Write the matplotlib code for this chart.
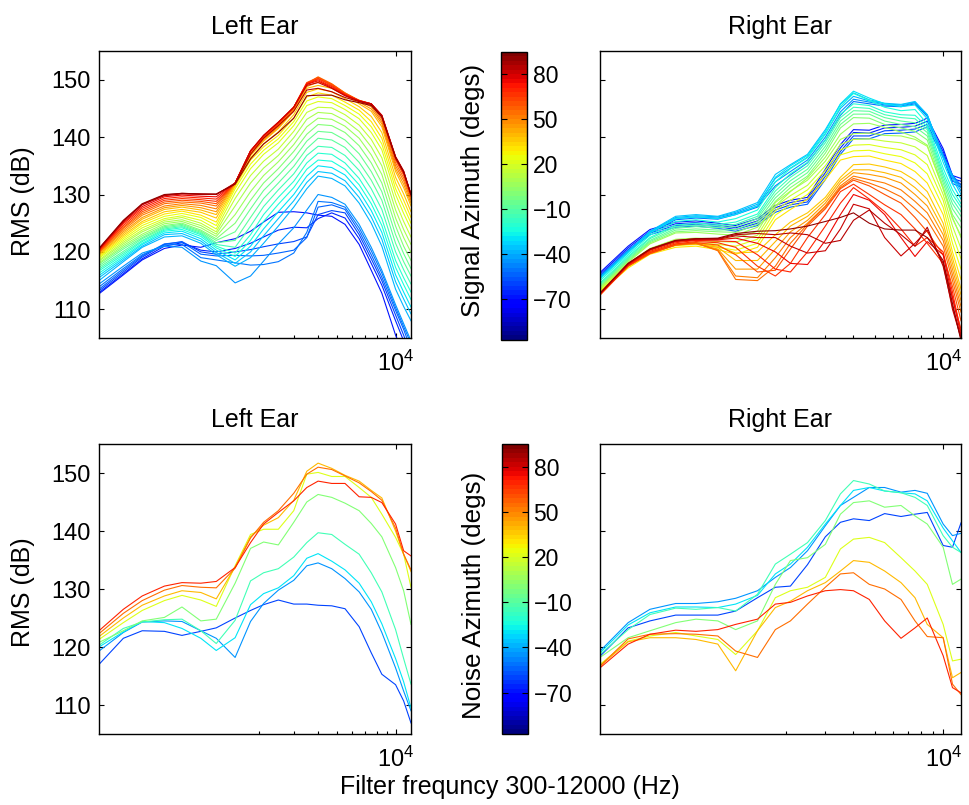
import numpy as np
import matplotlib
matplotlib.use("Agg")
import matplotlib.pyplot as plt
from matplotlib import colors, cm
from matplotlib.ticker import FixedLocator, NullFormatter

plt.rcParams['font.family'] = ['Liberation Sans', 'DejaVu Sans']

# filter centre frequencies (Hz)
freqs = [300, 400, 500, 650, 800, 1000, 1200, 1500, 1800, 2100, 2500,
         3000, 3500, 4000, 4700, 5500, 6500, 7500, 8500, 10000, 11000, 12000]

# signal azimuths (degs) for the upper row
sig_azimuth = list(range(-70, 95, 5))

# RMS level (dB) per signal azimuth, left ear
sig_left = [
    [112.7, 116.0, 118.6, 120.6, 121.2, 120.8, 121.6, 122.3, 123.6, 125.2, 126.9, 127.0, 126.8, 126.4, 126.2, 124.8, 121.3, 116.8, 112.8, 105.5, 102.0, 99.0],
    [112.9, 116.2, 118.8, 121.0, 121.6, 120.3, 120.0, 120.6, 121.5, 122.6, 123.8, 124.3, 124.2, 125.8, 126.8, 125.9, 122.3, 118.0, 114.2, 108.0, 104.5, 101.0],
    [113.2, 116.5, 119.1, 121.3, 121.8, 120.0, 119.6, 120.0, 120.4, 120.9, 121.4, 121.8, 122.6, 126.5, 127.2, 126.8, 123.0, 118.8, 115.0, 109.0, 105.5, 102.0],
    [113.5, 116.8, 119.3, 121.4, 121.7, 119.6, 119.3, 119.4, 119.3, 119.4, 119.8, 120.3, 122.5, 127.8, 128.2, 127.4, 123.6, 119.5, 115.6, 109.8, 106.5, 103.0],
    [113.9, 117.1, 119.5, 121.2, 121.3, 119.0, 118.6, 118.1, 117.7, 117.8, 118.3, 119.8, 123.4, 128.8, 128.6, 127.8, 124.2, 120.2, 116.3, 110.3, 107.0, 104.0],
    [114.4, 117.5, 119.8, 121.0, 120.8, 118.4, 117.6, 114.6, 115.8, 118.4, 121.4, 124.2, 127.3, 130.0, 129.5, 128.3, 124.8, 120.8, 116.8, 110.8, 107.5, 104.5],
    [115.0, 118.3, 120.8, 122.6, 122.8, 121.5, 119.5, 117.5, 119.0, 121.5, 124.5, 127.8, 131.0, 133.2, 132.8, 131.5, 128.5, 125.0, 121.0, 113.5, 110.5, 108.0],
    [115.5, 118.6, 121.0, 123.0, 123.2, 121.9, 119.9, 118.0, 120.0, 122.8, 125.8, 128.9, 132.1, 134.0, 133.7, 132.4, 129.5, 126.1, 122.2, 114.8, 111.8, 109.2],
    [115.9, 118.9, 121.3, 123.3, 123.6, 122.3, 120.3, 118.6, 121.0, 124.0, 127.0, 130.0, 133.2, 135.0, 134.7, 133.4, 130.6, 127.2, 123.4, 116.0, 113.0, 110.4],
    [116.3, 119.2, 121.5, 123.6, 123.9, 122.7, 120.7, 119.2, 122.0, 125.3, 128.3, 131.2, 134.4, 136.0, 135.8, 134.4, 131.7, 128.4, 124.6, 117.3, 114.3, 111.7],
    [116.7, 119.5, 121.8, 123.8, 124.2, 123.0, 121.0, 119.8, 123.0, 126.5, 129.5, 132.3, 135.5, 137.2, 137.0, 135.5, 132.8, 129.5, 125.8, 118.5, 115.5, 113.0],
    [117.0, 119.8, 122.0, 124.0, 124.4, 123.2, 121.3, 120.8, 124.5, 127.9, 130.8, 133.6, 136.8, 138.4, 138.2, 136.8, 134.2, 131.0, 127.4, 120.0, 116.9, 114.4],
    [117.3, 120.1, 122.3, 124.2, 124.6, 123.4, 121.6, 122.0, 126.0, 129.3, 132.0, 134.9, 138.0, 139.8, 139.5, 138.2, 135.6, 132.5, 129.0, 121.5, 118.3, 115.8],
    [117.6, 120.5, 122.5, 124.4, 124.8, 123.6, 122.0, 123.5, 127.5, 130.7, 133.3, 136.2, 139.3, 141.0, 140.8, 139.5, 137.1, 134.0, 130.5, 123.0, 119.7, 117.1],
    [117.9, 120.8, 122.8, 124.6, 125.0, 123.8, 122.3, 125.0, 129.0, 132.0, 134.5, 137.5, 140.5, 142.2, 142.0, 140.8, 138.5, 135.5, 132.0, 124.5, 121.0, 118.5],
    [118.1, 121.1, 123.1, 124.9, 125.3, 124.2, 122.7, 126.5, 130.5, 133.3, 135.7, 138.7, 141.8, 143.3, 143.1, 141.9, 139.8, 136.9, 133.5, 125.9, 122.5, 119.9],
    [118.4, 121.4, 123.5, 125.2, 125.6, 124.6, 123.1, 128.0, 132.0, 134.6, 136.8, 139.9, 143.1, 144.3, 144.1, 142.9, 141.0, 138.3, 135.0, 127.3, 123.9, 121.3],
    [118.6, 121.7, 123.8, 125.5, 126.0, 125.0, 123.5, 129.3, 133.3, 135.8, 137.9, 141.0, 144.3, 145.2, 145.1, 143.9, 142.1, 139.6, 136.4, 128.7, 125.3, 122.6],
    [118.9, 122.0, 124.2, 125.8, 126.3, 125.5, 124.0, 130.3, 134.5, 137.0, 139.0, 142.0, 145.5, 146.2, 146.0, 144.8, 143.2, 140.8, 137.8, 130.0, 126.7, 124.0],
    [119.1, 122.3, 124.6, 126.2, 126.7, 126.0, 124.6, 131.0, 135.3, 137.7, 139.7, 142.7, 146.3, 147.0, 146.7, 145.5, 144.0, 141.8, 138.8, 131.0, 127.9, 125.0],
    [119.3, 122.6, 125.0, 126.6, 127.1, 126.4, 125.2, 131.4, 136.0, 138.3, 140.3, 143.3, 147.0, 147.7, 147.3, 146.1, 144.7, 142.7, 139.8, 132.0, 129.0, 126.0],
    [119.5, 122.9, 125.3, 127.0, 127.4, 126.9, 125.9, 131.6, 136.4, 138.8, 140.9, 143.9, 147.8, 148.4, 147.9, 146.7, 145.3, 143.6, 140.8, 133.0, 130.1, 127.0],
    [119.6, 123.2, 125.7, 127.4, 127.8, 127.3, 126.5, 131.8, 136.8, 139.3, 141.5, 144.5, 148.5, 149.0, 148.5, 147.3, 145.8, 144.5, 141.8, 134.0, 131.2, 128.0],
    [119.8, 123.5, 126.0, 127.7, 128.1, 127.7, 127.0, 131.9, 137.0, 139.5, 141.7, 144.7, 148.8, 149.6, 148.9, 147.5, 146.1, 144.9, 142.3, 134.5, 131.8, 128.5],
    [119.9, 123.8, 126.4, 128.0, 128.4, 128.1, 127.5, 132.0, 137.2, 139.7, 141.9, 144.9, 149.1, 150.2, 149.2, 147.7, 146.3, 145.3, 142.7, 135.0, 132.4, 129.0],
    [120.0, 124.1, 126.7, 128.4, 128.7, 128.5, 128.0, 132.0, 137.4, 139.9, 142.1, 145.1, 149.3, 150.5, 149.3, 147.7, 146.4, 145.6, 143.1, 135.5, 132.9, 129.4],
    [120.1, 124.3, 127.0, 128.7, 129.0, 128.8, 128.4, 132.0, 137.5, 140.0, 142.3, 145.2, 149.5, 150.4, 149.2, 147.6, 146.4, 145.8, 143.5, 136.0, 133.4, 129.7],
    [120.2, 124.6, 127.3, 129.0, 129.3, 129.1, 128.8, 132.0, 137.6, 140.1, 142.4, 145.2, 149.4, 150.2, 149.0, 147.5, 146.4, 145.8, 143.6, 136.2, 133.6, 129.8],
    [120.3, 124.9, 127.6, 129.3, 129.6, 129.4, 129.2, 132.0, 137.6, 140.2, 142.5, 145.2, 149.3, 150.0, 148.8, 147.4, 146.3, 145.8, 143.7, 136.4, 133.8, 129.9],
    [120.4, 125.1, 127.9, 129.6, 129.9, 129.7, 129.6, 132.0, 137.6, 140.3, 142.6, 145.2, 149.2, 149.8, 148.6, 147.3, 146.3, 145.8, 143.8, 136.5, 134.0, 130.0],
    [120.5, 125.3, 128.2, 129.8, 130.1, 130.0, 130.0, 132.0, 137.6, 140.3, 142.6, 145.2, 149.0, 149.5, 148.5, 147.2, 146.3, 145.8, 143.8, 136.6, 134.1, 130.0],
    [120.6, 125.4, 128.3, 129.9, 130.2, 130.1, 130.0, 131.9, 137.0, 139.8, 142.0, 144.5, 148.2, 148.5, 147.9, 146.9, 146.2, 145.7, 143.7, 136.5, 134.0, 130.0],
    [120.6, 125.5, 128.4, 130.0, 130.2, 130.1, 130.1, 131.8, 136.2, 138.8, 140.8, 143.3, 147.2, 147.3, 147.3, 146.5, 146.0, 145.5, 143.5, 136.4, 133.9, 130.0],
]

# RMS level (dB) per signal azimuth, right ear
sig_right = [
    [116.4, 121.0, 123.9, 125.2, 125.4, 125.0, 124.6, 125.8, 128.1, 129.0, 129.5, 134.4, 138.7, 141.3, 141.2, 142.1, 142.2, 142.4, 143.3, 138.0, 133.3, 132.8],
    [116.1, 120.7, 123.6, 124.9, 125.1, 124.7, 124.2, 125.4, 127.7, 128.6, 129.1, 133.8, 138.1, 140.8, 140.7, 141.6, 141.7, 141.9, 142.8, 137.5, 132.8, 132.3],
    [115.8, 120.4, 123.3, 124.6, 124.8, 124.4, 123.9, 125.0, 127.3, 128.2, 128.7, 133.2, 137.5, 140.2, 140.2, 141.1, 141.2, 141.4, 142.2, 137.0, 132.3, 131.8],
    [115.5, 120.1, 123.0, 124.3, 124.5, 124.1, 123.6, 124.6, 126.9, 127.8, 128.3, 132.6, 137.0, 139.7, 139.7, 140.6, 140.7, 140.9, 141.8, 136.5, 131.9, 131.3],
    [115.8, 120.2, 123.3, 125.6, 125.9, 125.7, 126.5, 127.8, 131.5, 133.4, 135.5, 139.5, 143.8, 146.2, 145.8, 145.4, 145.3, 145.8, 143.6, 136.8, 133.4, 131.6],
    [115.7, 120.2, 123.4, 125.8, 126.1, 125.9, 126.7, 128.0, 132.2, 134.0, 136.0, 140.0, 144.4, 146.6, 146.1, 145.6, 145.4, 146.0, 143.8, 136.7, 133.3, 131.2],
    [115.6, 120.1, 123.5, 126.0, 126.3, 126.1, 126.9, 128.3, 132.8, 134.6, 136.5, 140.6, 145.0, 147.1, 146.3, 145.8, 145.6, 146.1, 143.9, 136.6, 133.2, 130.6],
    [115.5, 120.1, 123.6, 126.2, 126.5, 126.2, 127.1, 128.6, 133.5, 135.2, 137.0, 141.3, 145.7, 147.7, 146.5, 145.9, 145.7, 146.2, 143.9, 136.4, 132.8, 130.0],
    [115.3, 119.8, 123.3, 125.8, 126.1, 125.8, 126.5, 128.0, 133.0, 135.0, 136.8, 141.0, 145.8, 148.0, 146.8, 145.8, 145.3, 145.6, 143.2, 135.6, 131.8, 129.2],
    [115.0, 119.5, 122.9, 125.3, 125.6, 125.2, 125.8, 127.3, 132.2, 134.5, 136.4, 140.5, 145.3, 147.6, 146.4, 145.2, 144.6, 144.8, 142.3, 134.6, 130.8, 128.4],
    [114.6, 119.2, 122.5, 124.7, 125.0, 124.8, 125.2, 126.6, 131.2, 133.6, 135.6, 139.5, 144.0, 145.8, 145.5, 144.4, 143.9, 143.8, 141.8, 133.8, 130.0, 127.8],
    [114.4, 119.0, 122.3, 124.4, 124.7, 124.5, 124.8, 126.2, 130.6, 133.0, 135.0, 139.0, 143.4, 145.2, 145.0, 143.9, 143.4, 143.2, 141.3, 133.2, 129.2, 127.0],
    [114.2, 118.8, 122.0, 124.1, 124.4, 124.2, 124.4, 125.8, 130.0, 132.4, 134.4, 138.4, 142.8, 144.6, 144.5, 143.4, 142.8, 142.5, 140.8, 132.6, 128.4, 126.2],
    [114.0, 118.6, 121.8, 123.8, 124.0, 123.8, 123.9, 125.3, 129.4, 131.8, 133.8, 137.8, 142.2, 144.0, 144.0, 142.8, 142.2, 141.8, 140.2, 132.0, 127.5, 125.3],
    [113.9, 118.4, 121.6, 123.5, 123.7, 123.5, 123.4, 124.8, 128.8, 131.2, 133.2, 137.2, 141.6, 143.4, 143.3, 142.2, 141.6, 141.0, 139.5, 131.3, 126.5, 124.2],
    [113.8, 118.2, 121.4, 123.3, 123.4, 123.1, 122.9, 124.3, 128.0, 130.5, 132.9, 136.5, 140.5, 142.3, 142.4, 141.7, 140.9, 140.0, 138.6, 131.0, 125.8, 122.8],
    [113.6, 118.0, 120.6, 122.2, 122.4, 122.3, 122.4, 123.6, 128.6, 130.6, 132.5, 135.8, 139.6, 140.6, 140.7, 140.3, 140.2, 139.6, 138.4, 131.0, 126.0, 122.5],
    [113.4, 117.8, 120.3, 121.8, 122.0, 121.8, 121.7, 122.9, 127.9, 129.8, 131.6, 135.0, 138.7, 139.6, 139.7, 139.3, 139.0, 138.3, 136.8, 130.0, 124.5, 120.6],
    [113.2, 117.6, 120.0, 121.4, 121.6, 121.3, 121.0, 122.2, 127.2, 129.0, 130.8, 134.2, 137.8, 138.6, 138.7, 138.2, 137.8, 136.9, 135.2, 129.0, 123.0, 118.8],
    [113.0, 117.4, 119.8, 121.1, 121.3, 120.8, 120.3, 121.5, 126.4, 128.2, 130.0, 133.4, 136.9, 137.6, 137.7, 137.1, 136.6, 135.5, 133.6, 127.8, 121.5, 117.0],
    [112.9, 117.2, 119.6, 120.8, 121.0, 120.4, 119.6, 120.8, 125.6, 127.4, 129.2, 132.6, 136.0, 136.6, 136.7, 136.0, 135.4, 134.0, 132.0, 126.5, 120.0, 115.2],
    [112.8, 117.9, 120.0, 121.3, 121.5, 121.0, 119.8, 120.0, 123.0, 125.2, 126.8, 129.5, 133.0, 135.2, 135.3, 134.8, 134.0, 132.5, 130.5, 125.0, 119.0, 113.5],
    [112.7, 117.8, 119.9, 121.2, 121.4, 120.8, 118.5, 118.5, 121.8, 124.5, 126.2, 129.0, 132.5, 134.3, 134.3, 133.8, 133.0, 131.2, 129.2, 124.0, 118.0, 112.5],
    [112.6, 117.7, 119.8, 121.2, 121.4, 120.5, 117.0, 117.0, 120.5, 123.5, 125.5, 128.5, 132.0, 133.8, 133.5, 133.0, 132.0, 130.0, 128.0, 123.0, 117.0, 111.5],
    [112.5, 117.6, 119.7, 121.2, 121.5, 120.3, 115.8, 115.5, 119.0, 122.5, 125.0, 128.0, 131.5, 133.2, 132.6, 132.0, 130.8, 128.8, 126.8, 122.0, 116.0, 110.5],
    [112.5, 117.6, 119.8, 121.3, 121.6, 120.2, 115.2, 115.0, 117.5, 121.5, 124.8, 127.8, 131.2, 132.8, 132.0, 131.0, 129.6, 127.5, 125.5, 121.0, 115.0, 109.5],
    [112.5, 117.5, 119.7, 121.2, 121.6, 121.2, 119.5, 116.5, 116.8, 120.5, 124.5, 127.5, 131.0, 132.5, 131.5, 130.0, 128.5, 126.0, 123.5, 119.5, 114.0, 108.0],
    [112.6, 117.6, 119.9, 121.4, 121.8, 121.6, 120.8, 117.5, 115.8, 118.0, 122.5, 126.5, 130.5, 131.8, 130.0, 128.2, 126.5, 124.0, 121.5, 118.0, 112.0, 106.5],
    [112.6, 117.7, 120.1, 121.6, 122.0, 121.9, 121.8, 119.5, 117.0, 116.5, 120.0, 124.5, 128.5, 131.2, 129.2, 127.0, 124.0, 121.0, 122.5, 120.0, 113.0, 106.0],
    [112.7, 117.8, 120.3, 121.8, 122.1, 122.1, 122.4, 121.5, 120.0, 118.0, 117.8, 122.0, 126.5, 130.0, 129.0, 126.5, 122.5, 119.2, 121.8, 119.5, 112.0, 105.5],
    [112.7, 117.9, 120.4, 121.9, 122.2, 122.2, 122.8, 122.5, 122.5, 121.0, 119.8, 120.2, 124.0, 128.3, 127.5, 122.5, 119.3, 121.5, 123.8, 118.0, 110.0, 105.0],
    [112.8, 118.0, 120.5, 122.0, 122.3, 122.3, 123.0, 123.2, 123.0, 123.3, 123.0, 121.5, 122.0, 125.5, 127.3, 125.0, 123.0, 121.0, 124.3, 117.5, 110.5, 105.0],
    [112.8, 118.0, 120.5, 122.0, 122.3, 122.4, 123.2, 123.6, 123.7, 124.0, 124.5, 125.3, 126.0, 126.8, 125.0, 124.0, 123.8, 123.8, 122.5, 118.5, 111.0, 104.5],
]

# noise azimuths (degs) for the lower row
noise_azimuth = [-60, -45, -30, -15, 0, 20, 40, 55, 70]

noise_left = [
    [117.0, 121.5, 122.8, 122.7, 122.0, 122.7, 123.3, 125.0, 126.3, 127.3, 128.1, 127.4, 127.4, 127.2, 127.1, 126.6, 123.5, 119.0, 115.3, 113.5, 110.7, 106.9],
    [119.3, 122.5, 124.3, 124.5, 124.4, 122.8, 121.5, 118.2, 124.4, 127.5, 129.8, 131.5, 134.0, 134.5, 133.5, 131.8, 129.5, 126.5, 122.5, 116.4, 112.4, 109.0],
    [120.0, 122.6, 124.4, 124.2, 123.2, 121.5, 119.4, 121.6, 127.3, 129.2, 130.2, 132.3, 135.3, 136.1, 134.8, 133.3, 131.0, 127.8, 124.0, 118.0, 114.0, 109.5],
    [120.3, 123.2, 124.3, 124.7, 124.8, 122.8, 120.6, 124.6, 131.4, 132.8, 133.5, 135.5, 138.0, 139.7, 139.4, 137.7, 136.0, 132.8, 129.5, 123.0, 118.0, 113.6],
    [120.8, 122.8, 124.5, 125.1, 126.9, 124.5, 124.8, 131.0, 137.0, 138.1, 137.6, 141.5, 145.0, 146.3, 145.8, 144.8, 143.5, 141.3, 139.0, 133.7, 129.7, 123.9],
    [121.3, 124.2, 126.3, 128.0, 128.9, 128.1, 127.0, 134.0, 139.4, 140.3, 140.3, 143.5, 149.8, 150.1, 149.4, 149.4, 147.5, 145.8, 142.9, 138.9, 136.0, 130.3],
    [121.8, 125.0, 127.2, 128.8, 129.7, 129.4, 128.3, 133.8, 139.0, 141.0, 142.3, 145.3, 150.3, 151.7, 150.8, 149.6, 148.6, 147.0, 145.7, 140.0, 136.0, 133.0],
    [122.3, 125.8, 128.0, 129.8, 130.6, 130.3, 130.2, 133.6, 138.8, 141.5, 143.5, 146.5, 149.8, 151.0, 150.6, 149.5, 148.3, 146.8, 145.3, 140.5, 136.0, 133.3],
    [122.8, 126.5, 128.8, 130.5, 131.1, 131.0, 131.3, 133.7, 138.0, 141.2, 143.2, 145.2, 147.5, 148.6, 148.2, 148.2, 145.9, 145.8, 144.9, 141.2, 136.6, 135.7],
]

noise_right = [
    [118.4, 123.3, 124.5, 125.5, 125.5, 125.5, 126.2, 128.5, 130.3, 130.5, 134.2, 139.0, 141.5, 142.1, 141.8, 143.0, 142.5, 142.9, 143.2, 137.5, 137.2, 141.4],
    [119.3, 124.2, 126.5, 127.5, 127.5, 127.8, 128.4, 129.7, 132.0, 133.7, 136.6, 140.9, 144.4, 145.8, 147.5, 147.5, 146.7, 147.0, 146.5, 141.2, 139.2, 139.6],
    [119.0, 123.8, 125.9, 126.9, 126.9, 126.8, 127.4, 128.9, 132.6, 134.3, 137.2, 141.2, 144.4, 147.0, 147.5, 146.9, 146.6, 146.4, 145.2, 140.5, 138.3, 136.3],
    [118.7, 123.0, 125.6, 126.7, 126.5, 126.8, 126.2, 129.1, 134.3, 136.0, 138.0, 141.8, 146.4, 148.7, 148.1, 146.9, 146.6, 145.8, 144.4, 139.2, 137.2, 136.3],
    [118.2, 121.6, 122.8, 124.2, 124.8, 124.5, 123.0, 124.5, 130.8, 134.9, 135.4, 137.7, 142.9, 144.9, 145.2, 144.1, 144.4, 142.6, 141.2, 137.2, 130.8, 131.7],
    [117.0, 121.0, 121.9, 122.5, 121.9, 121.3, 118.7, 122.8, 128.5, 129.7, 130.3, 132.0, 136.9, 138.6, 138.9, 138.0, 135.4, 133.1, 130.8, 123.9, 117.6, 117.9],
    [116.7, 120.9, 121.6, 121.6, 121.3, 120.5, 115.9, 122.8, 126.8, 127.9, 129.7, 131.1, 133.1, 134.9, 134.6, 133.1, 131.1, 128.5, 123.9, 121.6, 114.7, 115.6],
    [116.7, 121.4, 122.2, 122.3, 122.2, 121.9, 119.3, 118.2, 123.0, 124.5, 127.4, 130.3, 132.6, 132.8, 130.8, 130.0, 128.2, 124.5, 121.8, 121.6, 113.6, 111.8],
    [116.4, 120.5, 122.2, 122.9, 122.7, 123.0, 123.9, 124.8, 127.4, 127.7, 128.8, 129.7, 129.9, 129.7, 128.2, 124.5, 121.5, 123.3, 125.0, 118.5, 113.0, 112.1],
]

cbar_ticks = [-70, -40, -10, 20, 50, 80]

cmap = plt.get_cmap('jet', 64)
norm = colors.Normalize(vmin=-97.5, vmax=95)

fig = plt.figure(figsize=(9.69, 8.05), dpi=100)

W, H = 969.0, 805.0


def box(x0, y0, x1, y1):
    # pixel box (top-left origin) -> figure fraction rect
    return [x0 / W, 1 - y1 / H, (x1 - x0) / W, (y1 - y0) / H]


def panel(rect, azimuths, levels, title, ylabel=None, label_y=0.5):
    ax = fig.add_axes(rect)
    for az, lv in zip(azimuths, levels):
        ax.plot(freqs, lv, color=cmap(norm(az)), lw=0.8)
    ax.set_xscale('log')
    ax.set_xlim(300, 12000)
    ax.set_ylim(105, 155)
    ax.xaxis.set_major_locator(FixedLocator([1e4]))
    ax.xaxis.set_minor_locator(FixedLocator([2000, 3000, 4000, 5000, 6000, 7000, 8000, 9000]))
    ax.xaxis.set_minor_formatter(NullFormatter())
    ax.set_yticks([110, 120, 130, 140, 150])
    ax.tick_params(which='major', direction='in', length=3.5, width=0.8,
                   top=True, right=True, labelsize=17)
    ax.tick_params(axis='x', which='major', pad=9)
    ax.tick_params(axis='y', which='major', pad=6)
    ax.tick_params(axis='x', which='minor', direction='in', length=2.2, width=0.8,
                   top=False, bottom=True)
    for s in ax.spines.values():
        s.set_linewidth(1.0)
    if ylabel:
        ax.set_ylabel(ylabel, fontsize=18)
        ax.yaxis.set_label_coords(-0.205, label_y)
    else:
        ax.tick_params(axis='y', labelleft=False)
    ax.set_title(title, fontsize=18, pad=12)
    return ax


def colorbar(rect, label, label_y=0.5):
    cax = fig.add_axes(rect)
    cb = fig.colorbar(cm.ScalarMappable(norm=norm, cmap=cmap), cax=cax)
    cb.set_ticks(cbar_ticks)
    cb.outline.set_linewidth(1.0)
    cax.tick_params(direction='in', left=True, right=True, length=4, width=0.8,
                    labelsize=16.5, pad=4)
    cax.minorticks_off()
    cax.set_ylabel(label, fontsize=18.7)
    cax.yaxis.set_label_position('left')
    cax.yaxis.set_label_coords(-0.62, label_y)
    return cb


panel(box(99, 51, 411, 338), sig_azimuth, sig_left, 'Left Ear', 'RMS (dB)', 0.476)
panel(box(600, 51, 961, 338), sig_azimuth, sig_right, 'Right Ear')
colorbar(box(501, 52, 527, 340), 'Signal Azimuth (degs)', 0.52)

panel(box(99, 444, 411, 734), noise_azimuth, noise_left, 'Left Ear', 'RMS (dB)', 0.49)
panel(box(600, 444, 961, 734), noise_azimuth, noise_right, 'Right Ear')
colorbar(box(502, 444, 528, 734), 'Noise Azimuth (degs)', 0.477)

fig.text(510 / W, 1 - 794 / H, 'Filter frequncy 300-12000 (Hz)',
         ha='center', va='baseline', fontsize=18)

fig.savefig('out.png', dpi=100)
